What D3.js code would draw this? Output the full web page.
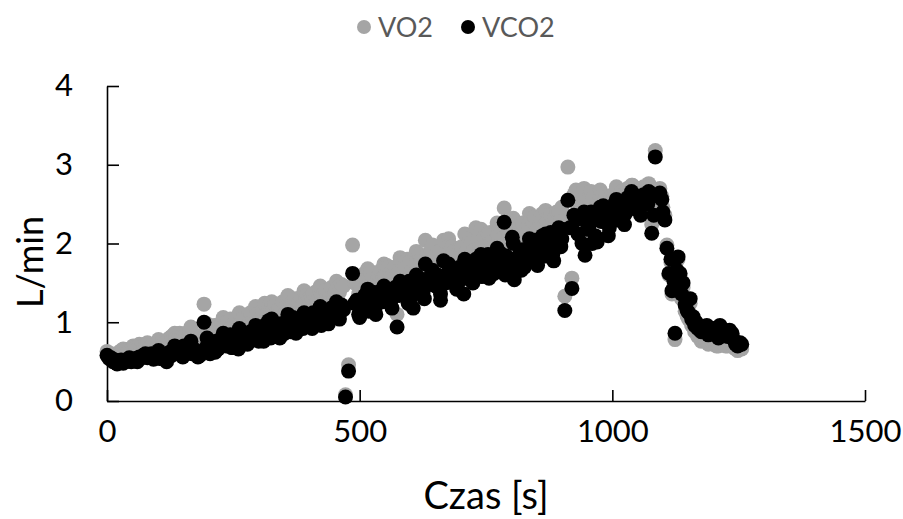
<!DOCTYPE html>
<html><head><meta charset="utf-8">
<script src="https://cdn.jsdelivr.net/npm/d3@7"></script>
<style>body{margin:0;background:#fff}svg{display:block}</style>
</head><body>
<svg id="c" width="903" height="519"></svg>
<script>
// breath set A
const timesA = [0,8,16,24,32,40,48,56,64,72,80,88,96,104,112,120,128,136,144,152,160,168,176,184,192,200,208,216,224,232,240,248,256,264,272,280,288,296,304,312,320,328,336,344,352,360,368,376,384,392,400,408,416,424,432,440,448,456,464,472,478,486,494,502,510,518,526,534,542,550,558,566,574,582,590,598,606,614,622,630,638,646,654,660,666,674,682,690,698,706,714,722,730,738,746,754,762,770,778,786,794,802,806,814,822,830,838,846,854,862,870,878,886,894,900,906,912,920,928,936,946,950,958,966,974,982,990,998,1006,1014,1022,1030,1038,1046,1054,1062,1070,1078,1085,1094,1100,1104,1108,1112,1118,1124,1130,1134,1140,1148,1154,1160,1166,1172,1180,1187,1194,1200,1206,1213,1220,1228,1237,1244,1253];
const vco2A = [0.58,0.55,0.52,0.50,0.48,0.52,0.50,0.54,0.56,0.58,0.55,0.60,0.57,0.54,0.56,0.60,0.58,0.63,0.66,0.70,0.64,0.60,0.62,0.58,1.00,0.64,0.70,0.76,0.72,0.82,0.78,0.68,0.74,0.80,0.86,0.82,0.78,0.84,0.88,0.96,1.02,0.92,0.88,0.98,0.86,0.94,1.06,1.00,0.98,1.08,1.02,1.12,1.04,0.96,1.10,1.14,1.06,1.18,1.22,0.05,0.38,1.62,1.28,1.20,1.34,1.14,1.38,1.24,1.40,1.30,1.42,1.36,0.94,1.46,1.38,1.52,1.18,1.50,1.44,1.74,1.56,1.48,1.60,1.28,1.78,1.62,1.66,1.54,1.70,1.36,1.72,1.64,1.80,1.68,1.76,1.86,1.72,1.82,1.88,2.27,1.78,2.08,1.54,1.84,1.92,1.80,1.96,2.04,1.86,2.10,1.92,2.14,2.00,2.20,2.06,1.15,2.55,1.43,2.30,2.32,1.85,2.18,2.40,2.10,2.30,2.48,2.26,2.40,2.52,2.34,2.46,2.58,2.66,2.44,2.56,2.62,2.50,2.13,3.10,2.64,2.40,2.30,1.94,1.62,1.40,0.86,1.83,1.62,1.50,1.15,1.30,1.07,1.00,0.94,0.90,0.96,0.86,0.92,0.84,0.96,0.88,0.82,0.86,0.72,0.74];
const vo2A = [0.63,0.60,0.58,0.62,0.66,0.60,0.64,0.68,0.72,0.70,0.74,0.70,0.66,0.68,0.72,0.78,0.82,0.80,0.86,0.84,0.78,0.76,0.80,0.82,1.23,0.88,0.92,0.90,0.98,0.94,1.02,0.96,1.06,1.00,0.98,1.08,1.02,1.10,1.06,1.24,1.20,1.14,1.12,1.18,1.10,1.22,1.28,1.20,1.32,1.26,1.30,1.36,1.28,1.34,1.40,1.36,1.32,1.44,1.48,0.08,0.46,1.98,1.52,1.44,1.62,1.48,1.56,1.52,1.66,1.58,1.70,1.62,1.10,1.78,1.72,1.76,1.40,1.68,1.80,2.04,1.84,1.76,1.88,1.52,2.04,1.86,1.96,1.82,1.94,1.60,1.98,2.02,2.20,1.96,2.08,2.12,2.02,2.16,2.22,2.45,2.06,2.30,1.74,2.14,2.26,2.18,2.30,2.34,2.20,2.38,2.28,2.36,2.32,2.40,2.34,1.33,2.97,1.56,2.68,2.62,2.00,2.50,2.66,2.44,2.56,2.62,2.50,2.60,2.66,2.52,2.62,2.70,2.74,2.58,2.66,2.72,2.60,2.24,3.18,2.70,2.46,2.36,1.98,1.60,1.36,0.78,1.80,1.58,1.44,1.08,1.24,1.00,0.92,0.84,0.80,0.86,0.74,0.78,0.70,0.82,0.72,0.70,0.74,0.66,0.68];
// breath set B
const timesB = [4,12,20,28,36,44,52,60,68,76,84,92,100,108,116,124,132,140,148,156,164,172,180,188,196,204,212,220,228,236,244,252,260,268,276,284,292,300,308,316,324,332,340,348,356,364,372,380,388,396,404,412,420,428,436,444,452,460,468,490,498,506,514,522,530,538,546,554,562,570,578,586,594,602,610,618,626,634,642,650,658,670,678,686,694,702,710,718,726,734,742,750,758,766,774,782,790,798,810,818,826,834,842,850,858,866,874,882,890,898,916,924,932,940,954,962,970,978,986,994,1002,1010,1018,1026,1034,1042,1050,1058,1066,1074,1082,1090,1098,1116,1122,1128,1137,1144,1151,1157,1163,1169,1176,1183,1190,1197,1203,1210,1217,1224,1232,1240,1248,1256];
const vco2B = [0.54,0.50,0.47,0.52,0.50,0.55,0.52,0.50,0.55,0.60,0.56,0.53,0.55,0.58,0.54,0.62,0.66,0.60,0.68,0.62,0.70,0.66,0.56,0.62,0.68,0.60,0.74,0.66,0.80,0.70,0.84,0.72,0.66,0.78,0.74,0.88,0.80,0.76,0.92,0.84,0.80,0.96,0.84,0.92,1.00,0.88,0.96,1.04,0.92,1.00,1.08,0.98,1.14,1.06,1.02,1.18,1.12,1.04,1.16,1.24,1.10,1.30,1.22,1.32,1.16,1.36,1.26,1.40,1.28,1.44,1.34,1.40,1.48,1.32,1.44,1.56,1.40,1.52,1.62,1.46,1.56,1.50,1.70,1.60,1.48,1.64,1.56,1.76,1.60,1.70,1.58,1.66,1.78,1.62,1.74,1.66,1.84,1.70,1.76,1.88,1.70,1.82,1.90,1.76,1.96,1.84,1.98,1.86,2.06,1.96,2.20,2.36,2.12,2.00,2.22,2.32,2.02,2.28,2.36,2.20,2.44,2.30,2.50,2.38,2.52,2.62,2.48,2.60,2.54,2.64,2.36,2.60,2.56,1.80,1.52,1.66,1.36,1.22,1.12,1.04,0.96,0.92,0.88,0.92,0.84,0.90,0.86,0.80,0.92,0.84,0.90,0.78,0.70,0.72];
const vo2B = [0.60,0.56,0.55,0.64,0.62,0.66,0.70,0.64,0.68,0.72,0.68,0.66,0.70,0.74,0.70,0.80,0.84,0.78,0.82,0.86,0.88,0.82,0.76,0.84,0.90,0.86,0.96,0.92,0.98,0.94,1.04,1.00,0.94,1.04,1.02,1.12,1.06,1.00,1.14,1.10,1.16,1.22,1.16,1.26,1.24,1.20,1.30,1.26,1.22,1.34,1.32,1.38,1.42,1.36,1.30,1.44,1.40,1.38,1.46,1.50,1.36,1.58,1.54,1.64,1.46,1.60,1.56,1.72,1.64,1.70,1.66,1.76,1.80,1.64,1.74,1.86,1.70,1.86,1.92,1.80,1.90,1.84,1.98,1.90,1.86,1.96,1.88,2.06,1.92,2.04,1.94,2.00,2.14,1.98,2.10,2.06,2.20,2.02,2.12,2.24,2.08,2.22,2.28,2.16,2.32,2.24,2.36,2.26,2.40,2.30,2.56,2.62,2.48,2.36,2.58,2.60,2.40,2.54,2.58,2.48,2.62,2.56,2.66,2.58,2.70,2.72,2.62,2.70,2.66,2.72,2.44,2.64,2.60,1.76,1.46,1.60,1.30,1.14,1.04,0.96,0.88,0.82,0.76,0.80,0.72,0.76,0.72,0.70,0.78,0.70,0.74,0.68,0.64,0.66];
// breath set C
const timesC = [102,118,134,150,166,182,198,214,230,246,262,278,294,310,326,342,358,374,390,406,422,438,454,500,516,532,548,564,580,596,612,628,644,660,676,692,708,724,740,756,772,788,804,820,836,852,868,884,900,944,960,976,992,1008,1024,1040,1056,1072];
const vco2C = [0.64,0.50,0.70,0.56,0.76,0.62,0.80,0.62,0.86,0.68,0.92,0.72,0.96,0.76,1.04,0.80,1.10,0.86,1.12,0.92,1.20,0.98,1.26,1.06,1.42,1.10,1.46,1.18,1.52,1.24,1.60,1.30,1.66,1.36,1.74,1.42,1.80,1.50,1.86,1.56,1.94,1.60,2.00,1.66,2.06,1.72,2.12,1.78,2.18,2.40,2.00,2.46,2.10,2.56,2.24,2.60,2.36,2.66];
const vo2C = [0.78,0.66,0.86,0.74,0.94,0.80,0.98,0.84,1.06,0.90,1.12,0.96,1.20,1.00,1.26,1.06,1.34,1.14,1.40,1.20,1.46,1.28,1.52,1.34,1.68,1.40,1.74,1.48,1.82,1.56,1.90,1.62,1.98,1.70,2.06,1.76,2.12,1.84,2.18,1.90,2.26,1.96,2.32,2.04,2.38,2.12,2.42,2.18,2.46,2.70,2.36,2.68,2.44,2.72,2.52,2.74,2.60,2.76];
const xTicks = [0,500,1000,1500];
const yTicks = [0,1,2,3,4];
const seriesNames = ["VO2","VCO2"];
const seriesColors = ["#A5A5A5","#000000"];

const svg = d3.select("#c");
const font = "Lato, 'Open Sans', sans-serif";
const x = d3.scaleLinear().domain([0,1500]).range([107,865]);
const y = d3.scaleLinear().domain([0,4]).range([401,86]);

const xa = svg.append("g").attr("transform","translate(0,401)")
  .call(d3.axisBottom(x).tickValues(xTicks).tickSize(-11).tickPadding(19).tickSizeOuter(0).tickFormat(d3.format("d")));
const ya = svg.append("g").attr("transform","translate(107,0)")
  .call(d3.axisLeft(y).tickValues(yTicks).tickSize(-12).tickPadding(34).tickSizeOuter(0).tickFormat(d3.format("d")));
[xa,ya].forEach(a=>{
  a.selectAll("path,line").attr("stroke","#000").attr("stroke-width",1.6);
  a.selectAll("text").attr("font-family",font).attr("font-size",31).attr("fill","#000");
});

function merge(sets){
  let pts = [];
  sets.forEach(([ts,vs])=>{ ts.forEach((t,i)=>{ if(vs[i]!==undefined) pts.push([t,vs[i]]); }); });
  return pts.sort((a,b)=>a[0]-b[0]);
}
const data = [
  {name:seriesNames[0],color:seriesColors[0],pts:merge([[timesA,vo2A],[timesB,vo2B],[timesC,vo2C]])},
  {name:seriesNames[1],color:seriesColors[1],pts:merge([[timesA,vco2A],[timesB,vco2B],[timesC,vco2C]])}
];
data.forEach(s=>{
  svg.append("g").selectAll("circle").data(s.pts).join("circle")
    .attr("cx",d=>x(d[0])).attr("cy",d=>y(d[1])).attr("r",7.5)
    .attr("fill",s.color);
});

svg.append("text").attr("x",486).attr("y",509).attr("text-anchor","middle")
  .attr("font-family",font).attr("font-size",38).attr("fill","#000").text("Czas [s]");
svg.append("text").attr("transform","translate(43,262) rotate(-90)").attr("text-anchor","middle")
  .attr("font-family",font).attr("font-size",36).attr("fill","#000").text("L/min");

// legend
const lg = svg.append("g");
const lx = [364,468];
data.forEach((s,i)=>{
  lg.append("circle").attr("cx",lx[i]).attr("cy",27).attr("r",7).attr("fill",s.color);
  lg.append("text").attr("x",lx[i]+14).attr("y",37).attr("font-family",font).attr("font-size",27)
    .attr("fill","#595959").text(s.name);
});
</script>
</body></html>
